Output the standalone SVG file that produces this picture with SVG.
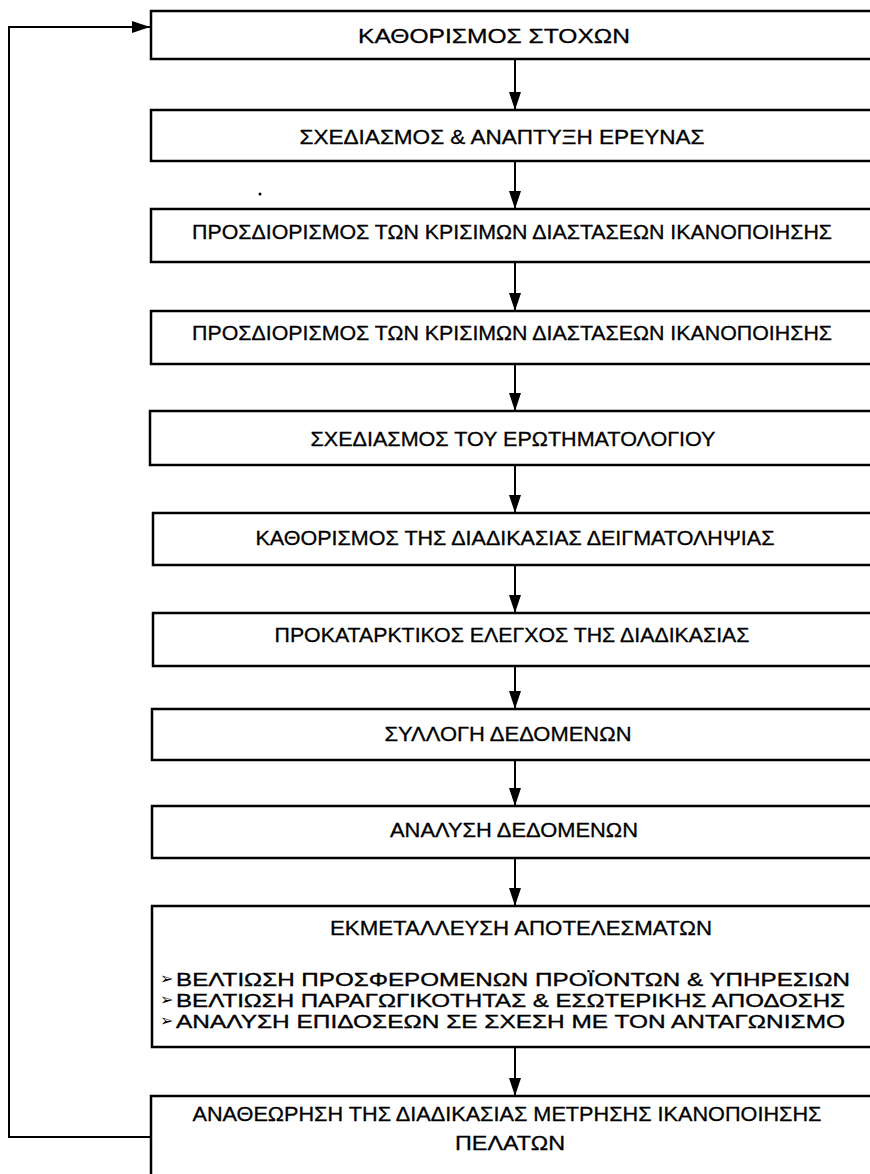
<svg xmlns="http://www.w3.org/2000/svg" width="870" height="1174" viewBox="0 0 870 1174">
<style>
.box{fill:#fff;stroke:#000;stroke-width:2.5}
.t{font-family:"Liberation Sans",Arial,sans-serif;font-size:21px;fill:#000;stroke:#000;stroke-width:0.3;text-anchor:middle}
.l{font-family:"Liberation Sans",Arial,sans-serif;font-size:19px;fill:#000;stroke:#000;stroke-width:0.35}
.b{font-family:"DejaVu Sans",sans-serif;font-size:16px;fill:#000}
.c{fill:none;stroke:#000;stroke-width:2}
</style>
<defs>
<marker id="ah" viewBox="0 0 18 12" refX="18" refY="6" markerWidth="18" markerHeight="13" markerUnits="userSpaceOnUse" orient="auto">
<path d="M0,0 L18,6 L0,12 Z" fill="#000"/>
</marker>
</defs>
<rect width="870" height="1174" fill="#fff"/>
<g id="connectors">
<line class="c" x1="515" y1="59" x2="515" y2="110" marker-end="url(#ah)"/>
<line class="c" x1="515" y1="161" x2="515" y2="209" marker-end="url(#ah)"/>
<line class="c" x1="515" y1="262" x2="515" y2="311" marker-end="url(#ah)"/>
<line class="c" x1="515" y1="364" x2="515" y2="411" marker-end="url(#ah)"/>
<line class="c" x1="515" y1="465" x2="515" y2="513" marker-end="url(#ah)"/>
<line class="c" x1="515" y1="565" x2="515" y2="613" marker-end="url(#ah)"/>
<line class="c" x1="515" y1="666" x2="515" y2="709" marker-end="url(#ah)"/>
<line class="c" x1="515" y1="760" x2="515" y2="806" marker-end="url(#ah)"/>
<line class="c" x1="515" y1="858" x2="515" y2="906" marker-end="url(#ah)"/>
<line class="c" x1="515" y1="1047" x2="515" y2="1096" marker-end="url(#ah)"/>
<polyline class="c" points="151,1137 9,1137 9,27 150,27" marker-end="url(#ah)"/>
</g>
<g id="n1"><rect class="box" x="151" y="11" width="740" height="48"/><text class="t" x="494" y="43" textLength="272" lengthAdjust="spacingAndGlyphs">ΚΑΘΟΡΙΣΜΟΣ ΣΤΟΧΩΝ</text></g>
<g id="n2"><rect class="box" x="151" y="110" width="740" height="51"/><text class="t" x="502" y="144" textLength="405" lengthAdjust="spacingAndGlyphs">ΣΧΕΔΙΑΣΜΟΣ &amp; ΑΝΑΠΤΥΞΗ ΕΡΕΥΝΑΣ</text></g>
<circle cx="260" cy="194" r="1.5" fill="#000"/>
<g id="n3"><rect class="box" x="151" y="209" width="740" height="53"/><text class="t" x="512" y="239" textLength="640" lengthAdjust="spacingAndGlyphs">ΠΡΟΣΔΙΟΡΙΣΜΟΣ ΤΩΝ ΚΡΙΣΙΜΩΝ ΔΙΑΣΤΑΣΕΩΝ ΙΚΑΝΟΠΟΙΗΣΗΣ</text></g>
<g id="n4"><rect class="box" x="151" y="311" width="740" height="53"/><text class="t" x="512" y="340" textLength="640" lengthAdjust="spacingAndGlyphs">ΠΡΟΣΔΙΟΡΙΣΜΟΣ ΤΩΝ ΚΡΙΣΙΜΩΝ ΔΙΑΣΤΑΣΕΩΝ ΙΚΑΝΟΠΟΙΗΣΗΣ</text></g>
<g id="n5"><rect class="box" x="150" y="411" width="740" height="54"/><text class="t" x="513" y="446" textLength="405" lengthAdjust="spacingAndGlyphs">ΣΧΕΔΙΑΣΜΟΣ ΤΟΥ ΕΡΩΤΗΜΑΤΟΛΟΓΙΟΥ</text></g>
<g id="n6"><rect class="box" x="153" y="513" width="740" height="52"/><text class="t" x="515" y="545" textLength="519" lengthAdjust="spacingAndGlyphs">ΚΑΘΟΡΙΣΜΟΣ ΤΗΣ ΔΙΑΔΙΚΑΣΙΑΣ ΔΕΙΓΜΑΤΟΛΗΨΙΑΣ</text></g>
<g id="n7"><rect class="box" x="153" y="613" width="740" height="53"/><text class="t" x="512" y="642" textLength="475" lengthAdjust="spacingAndGlyphs">ΠΡΟΚΑΤΑΡΚΤΙΚΟΣ ΕΛΕΓΧΟΣ ΤΗΣ ΔΙΑΔΙΚΑΣΙΑΣ</text></g>
<g id="n8"><rect class="box" x="152" y="709" width="740" height="51"/><text class="t" x="508" y="741" textLength="247" lengthAdjust="spacingAndGlyphs">ΣΥΛΛΟΓΗ ΔΕΔΟΜΕΝΩΝ</text></g>
<g id="n9"><rect class="box" x="152" y="806" width="740" height="52"/><text class="t" x="514" y="837" textLength="248" lengthAdjust="spacingAndGlyphs">ΑΝΑΛΥΣΗ ΔΕΔΟΜΕΝΩΝ</text></g>
<g id="n10"><rect class="box" x="152" y="906" width="740" height="141"/>
<text class="t" x="521" y="935" textLength="382" lengthAdjust="spacingAndGlyphs">ΕΚΜΕΤΑΛΛΕΥΣΗ ΑΠΟΤΕΛΕΣΜΑΤΩΝ</text>
<text class="b" x="160" y="984">➢</text><text class="l" x="176" y="986" textLength="674" lengthAdjust="spacingAndGlyphs">ΒΕΛΤΙΩΣΗ ΠΡΟΣΦΕΡΟΜΕΝΩΝ ΠΡΟΪΟΝΤΩΝ &amp; ΥΠΗΡΕΣΙΩΝ</text>
<text class="b" x="160" y="1005">➢</text><text class="l" x="176" y="1007" textLength="669" lengthAdjust="spacingAndGlyphs">ΒΕΛΤΙΩΣΗ ΠΑΡΑΓΩΓΙΚΟΤΗΤΑΣ &amp; ΕΣΩΤΕΡΙΚΗΣ ΑΠΟΔΟΣΗΣ</text>
<text class="b" x="160" y="1026">➢</text><text class="l" x="176" y="1028" textLength="669" lengthAdjust="spacingAndGlyphs">ΑΝΑΛΥΣΗ ΕΠΙΔΟΣΕΩΝ ΣΕ ΣΧΕΣΗ ΜΕ ΤΟΝ ΑΝΤΑΓΩΝΙΣΜΟ</text>
</g>
<g id="n11"><rect class="box" x="151" y="1096" width="740" height="100"/>
<text class="t" x="507" y="1121" textLength="629" lengthAdjust="spacingAndGlyphs">ΑΝΑΘΕΩΡΗΣΗ ΤΗΣ ΔΙΑΔΙΚΑΣΙΑΣ ΜΕΤΡΗΣΗΣ ΙΚΑΝΟΠΟΙΗΣΗΣ</text>
<text class="t" x="510" y="1150" textLength="110" lengthAdjust="spacingAndGlyphs">ΠΕΛΑΤΩΝ</text>
</g>
</svg>
